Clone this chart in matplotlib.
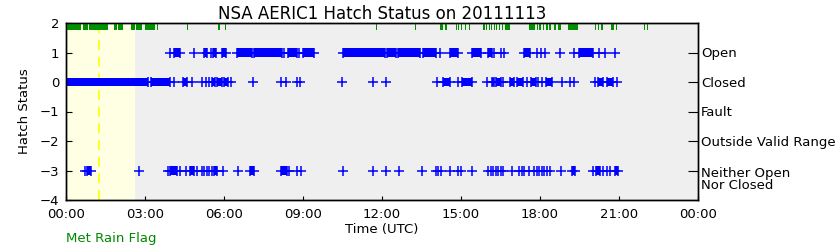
import matplotlib
matplotlib.use("Agg")
import matplotlib.pyplot as plt
import matplotlib.transforms as mtransforms

# hatch status samples, time in hours UTC
# single samples (isolated "+") and runs of dense samples (start, end)
open_times = [3.95, 4.87, 5.49, 8.28, 8.86, 14.2, 16.27, 16.52, 16.63,
              17.87, 18.03, 18.2, 18.76, 19.29, 20.23, 20.48, 20.86]
open_runs = [(4.11, 4.33), (5.24, 5.37), (5.6, 5.7), (5.94, 6.08), (6.48, 7.05),
             (7.15, 8.19), (8.44, 8.76), (8.99, 9.42), (10.51, 12.12), (12.2, 12.53),
             (12.62, 13.44), (13.57, 14.05), (14.58, 14.9), (15.43, 15.75),
             (16.04, 16.18), (17.39, 17.62), (19.48, 20.03)]

closed_times = [4.11, 4.79, 5.15, 5.3, 5.43, 6.26, 7.09, 8.15, 8.34, 8.79, 8.89,
                10.47, 11.65, 12.14, 14.08, 14.9, 15.98, 16.61, 17.5, 17.94, 18.07,
                18.83, 19.14, 19.29, 20.09, 20.94]
closed_runs = [(0.0, 3.13), (3.23, 3.95), (4.45, 4.6), (5.53, 5.66), (5.72, 5.91),
               (6.0, 6.16), (14.31, 14.58), (15.03, 15.41), (16.17, 16.26),
               (16.33, 16.51), (16.86, 17.01), (17.12, 17.37), (17.64, 17.84),
               (18.23, 18.45), (20.22, 20.41), (20.56, 20.79)]

neither_times = [0.72, 2.77, 3.89, 4.33, 4.54, 4.99, 5.15, 5.24, 5.34, 5.43, 5.53,
                 5.95, 6.54, 8.48, 8.79, 8.91, 10.51, 11.64, 12.14, 12.65, 13.51,
                 14.04, 14.12, 14.24, 14.58, 14.9, 14.99, 15.41, 16.04, 16.13, 16.23,
                 16.32, 16.42, 16.51, 16.61, 16.93, 17.2, 17.31, 17.39, 17.58, 17.79,
                 17.87, 17.97, 18.07, 18.15, 18.26, 18.38, 18.79, 20.03, 20.41,
                 20.53, 20.66]
neither_runs = [(0.78, 0.94), (3.95, 4.2), (4.71, 4.86), (5.62, 5.75), (6.99, 7.14),
                (8.15, 8.38), (19.2, 19.33), (20.12, 20.28), (20.85, 20.98)]

# Met rain flag periods (hours)
rain_start = [0.0, 0.66, 0.81, 0.89, 1.82, 1.99, 2.47, 2.67, 3.0, 3.47, 4.6, 5.79,
              6.04, 11.77, 13.27, 14.2, 14.38, 14.8, 14.9, 14.99, 15.15, 15.3,
              15.85, 15.95, 16.05, 16.14, 16.24, 16.33, 16.43, 16.56, 16.66,
              17.6, 17.88, 17.98, 18.1, 18.23, 18.36, 18.55, 18.68, 19.07,
              20.1, 20.21, 20.33, 20.7, 20.9, 21.95, 22.05]
rain_end = [0.56, 0.78, 0.85, 1.61, 1.92, 2.18, 2.62, 2.87, 3.38, 3.51, 4.64, 5.83,
            6.08, 11.81, 13.31, 14.3, 14.46, 14.84, 14.94, 15.03, 15.19, 15.34,
            15.91, 15.99, 16.09, 16.18, 16.28, 16.37, 16.47, 16.6, 16.86,
            17.8, 17.92, 18.02, 18.14, 18.3, 18.4, 18.62, 18.78, 19.45,
            20.14, 20.25, 20.4, 20.82, 20.94, 21.99, 22.09]

# shading / marker line
shade_end = 2.6
marker_time = 1.24

status_ticks = [1, 0, -1, -2, -3]
status_labels = ["Open", "Closed", "Fault", "Outside Valid Range", "Neither Open\nNor Closed"]
hour_ticks = [0, 3, 6, 9, 12, 15, 18, 21, 24]
hour_labels = ["00:00", "03:00", "06:00", "09:00", "12:00", "15:00", "18:00", "21:00", "00:00"]

fig = plt.figure(figsize=(8.4, 2.5), dpi=100)
ax = fig.add_axes([66 / 840, 1 - 200 / 250, 632 / 840, 177 / 250])
ax.set_facecolor("#efefef")

ax.axvspan(0, shade_end, color="#ffffe4", zorder=0)
ax.axvline(marker_time, color="#ffff00", lw=1.2, ls=(0, (6, 4)), zorder=1)

blue = "#0000ff"
for y, times, runs in [(1, open_times, open_runs),
                       (0, closed_times, closed_runs),
                       (-3, neither_times, neither_runs)]:
    ax.broken_barh([(s, e - s) for s, e in runs], (y - 0.15, 0.3),
                   facecolors=blue, edgecolors="none", zorder=3)
    ends = [s for s, e in runs] + [e for s, e in runs]
    ax.plot(times + ends, [y] * (len(times) + len(ends)), ls="none",
            marker="+", ms=7.5, mew=1.1, color=blue, zorder=3)

trans = mtransforms.blended_transform_factory(ax.transData, ax.transAxes)
ax.broken_barh([(s, e - s) for s, e in zip(rain_start, rain_end)], (0.96, 0.04),
               facecolors="#009000", edgecolors="none", transform=trans, zorder=4,
               clip_on=False)

ax.set_xlim(0, 24)
ax.set_ylim(-4, 2)
ax.set_xticks(hour_ticks)
ax.set_xticklabels(hour_labels)
ax.set_yticks(range(-4, 3))
ax.set_yticklabels([str(v).replace("-", "\u2212") for v in range(-4, 3)])
ax.tick_params(axis="both", direction="in", labelsize=9.5, width=0.8)
ax.tick_params(axis="y", length=4, pad=5)
ax.tick_params(axis="x", length=3, pad=6)

ax2 = ax.twinx()
ax2.set_ylim(-4, 2)
ax2.set_yticks(status_ticks)
ax2.set_yticklabels(status_labels, linespacing=0.85)
ax2.tick_params(axis="y", direction="in", length=7, labelsize=9.5, width=0.8, pad=2)
# two-line label: first line sits on the tick
last = ax2.get_yticklabels()[-1]
last.set_transform(last.get_transform() +
                   mtransforms.ScaledTranslation(0, -6 / 72, fig.dpi_scale_trans))

for a in (ax, ax2):
    for sp in a.spines.values():
        sp.set_linewidth(1.0)

ax.set_title("NSA AERIC1 Hatch Status on 20111113", fontsize=12, pad=3)
ax.set_ylabel("Hatch Status", fontsize=9.5, labelpad=6)
ax.set_xlabel("Time (UTC)", fontsize=9.5, labelpad=1)
fig.text(66 / 840, 1 - 242 / 250, "Met Rain Flag", color="#008800", fontsize=9.5)

fig.savefig("out.png", dpi=100)
